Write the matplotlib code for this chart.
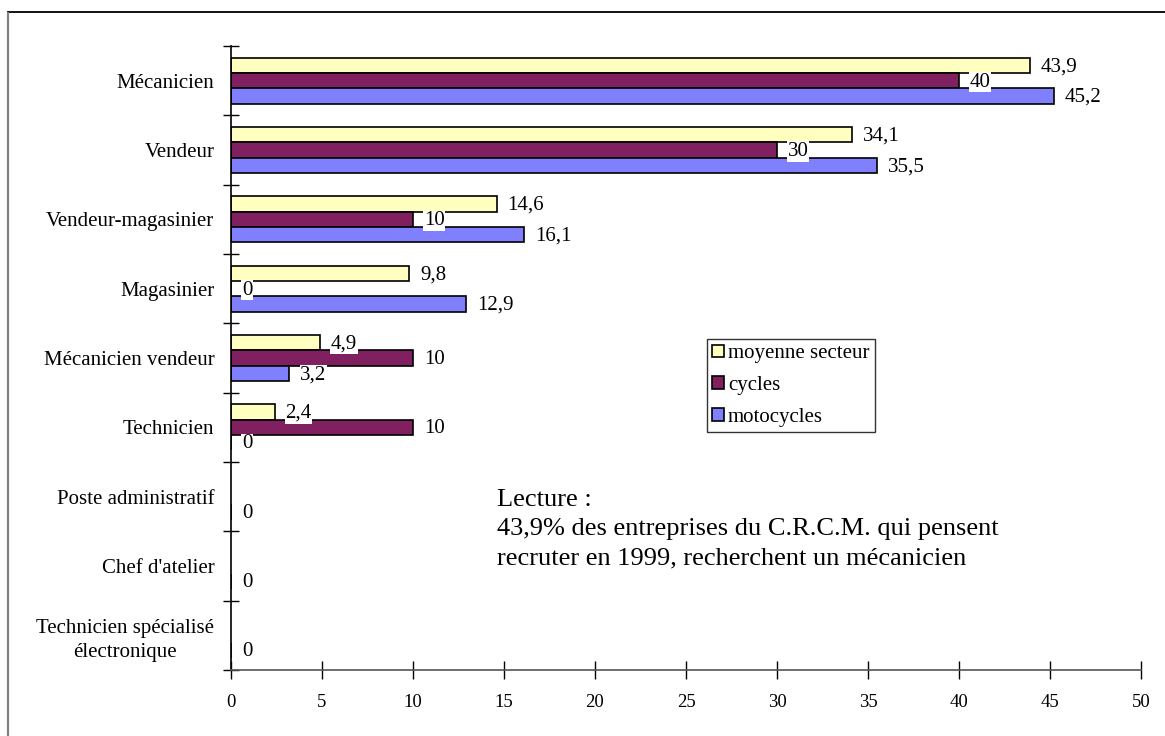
import numpy as np
import matplotlib.pyplot as plt
from matplotlib.patches import Rectangle

plt.rcParams['font.family'] = ['Liberation Serif', 'DejaVu Serif']

postes = ['Mécanicien', 'Vendeur', 'Vendeur-magasinier', 'Magasinier',
          'Mécanicien vendeur', 'Technicien', 'Poste administratif',
          "Chef d'atelier", 'Technicien spécialisé\nélectronique']
moyenne = [43.9, 34.1, 14.6, 9.8, 4.9, 2.4, None, None, None]
cycles = [40, 30, 10, 0, 10, 10, None, None, None]
motocycles = [45.2, 35.5, 16.1, 12.9, 3.2, 0, 0, 0, 0]

series = [('moyenne secteur', moyenne, '#FFFFC0'),
          ('cycles', cycles, '#802060'),
          ('motocycles', motocycles, '#8080FF')]

W, H = 1165, 736
x0, x1, y0, y1 = 231, 1141, 46, 670
fig = plt.figure(figsize=(W / 100, H / 100), dpi=100)
ax = fig.add_axes([x0 / W, 1 - y1 / H, (x1 - x0) / W, (y1 - y0) / H])

# frame around the whole chart (only top and left fall inside the image)
fig.patches.append(Rectangle((7.5 / W, -0.1), 1.2, 1 - 12 / H + 0.1,
                             transform=fig.transFigure, fill=False,
                             edgecolor='black', linewidth=1.3, zorder=0))
fig.patches.append(Rectangle((7.5 / W, -0.1), 0, 1 - 12 / H + 0.1,
                             transform=fig.transFigure, fill=False,
                             edgecolor='#808080', linewidth=1.5, zorder=1))

y = np.arange(len(postes))
h = 0.22
handles = []
for k, (name, vals, col) in enumerate(series):
    off = (k - 1) * h
    for i, v in enumerate(vals):
        if v is None:
            continue
        yy = y[i] + off
        ax.barh(yy, v, height=h, color=col, edgecolor='black',
                linewidth=1.2, zorder=2)
        lab = ('%g' % v).replace('.', ',')
        ax.text(v + 0.6, yy + 0.02, lab, ha='left', va='center', fontsize=15,
                zorder=3,
                bbox=dict(facecolor='white', edgecolor='none', pad=0.5))
    handles.append(Rectangle((0, 0), 1, 1, facecolor=col, edgecolor='black',
                             linewidth=1.2, label=name))

ax.set_xlim(0, 50)
ax.set_ylim(len(postes) - 0.5, -0.5)
ax.set_xticks(np.arange(0, 51, 5))
ax.set_yticks(y)
ax.set_yticklabels(postes, fontsize=15, ha='right', multialignment='center',
                   linespacing=1.35)
ax.tick_params(axis='y', length=0, pad=12)
ax.set_yticks(np.arange(-0.5, len(postes), 1), minor=True)
ax.tick_params(axis='y', which='minor', length=11, direction='inout', width=1)
ax.tick_params(axis='x', length=13, direction='inout', width=1, labelsize=13.5,
               pad=11)
for s in ['top', 'right']:
    ax.spines[s].set_visible(False)
ax.spines['left'].set_linewidth(1.2)
ax.spines['bottom'].set_linewidth(1.2)
ax.spines['bottom'].set_color('#555555')

leg = ax.legend(handles=handles, loc='upper left',
                bbox_to_anchor=((707 - x0) / (x1 - x0), (y1 - 339) / (y1 - y0)),
                fontsize=15, frameon=True, fancybox=False, borderpad=0.25,
                handlelength=0.55, handleheight=0.55, handletextpad=0.2,
                labelspacing=0.62, borderaxespad=0)
leg.get_frame().set_edgecolor('black')
leg.get_frame().set_linewidth(1.0)

fig.text(497 / W, 1 - 529 / H,
         'Lecture :\n43,9% des entreprises du C.R.C.M. qui pensent\n'
         'recruter en 1999, recherchent un mécanicien',
         fontsize=19, va='center', ha='left', linespacing=1.42)

fig.savefig('out.png', dpi=100)
